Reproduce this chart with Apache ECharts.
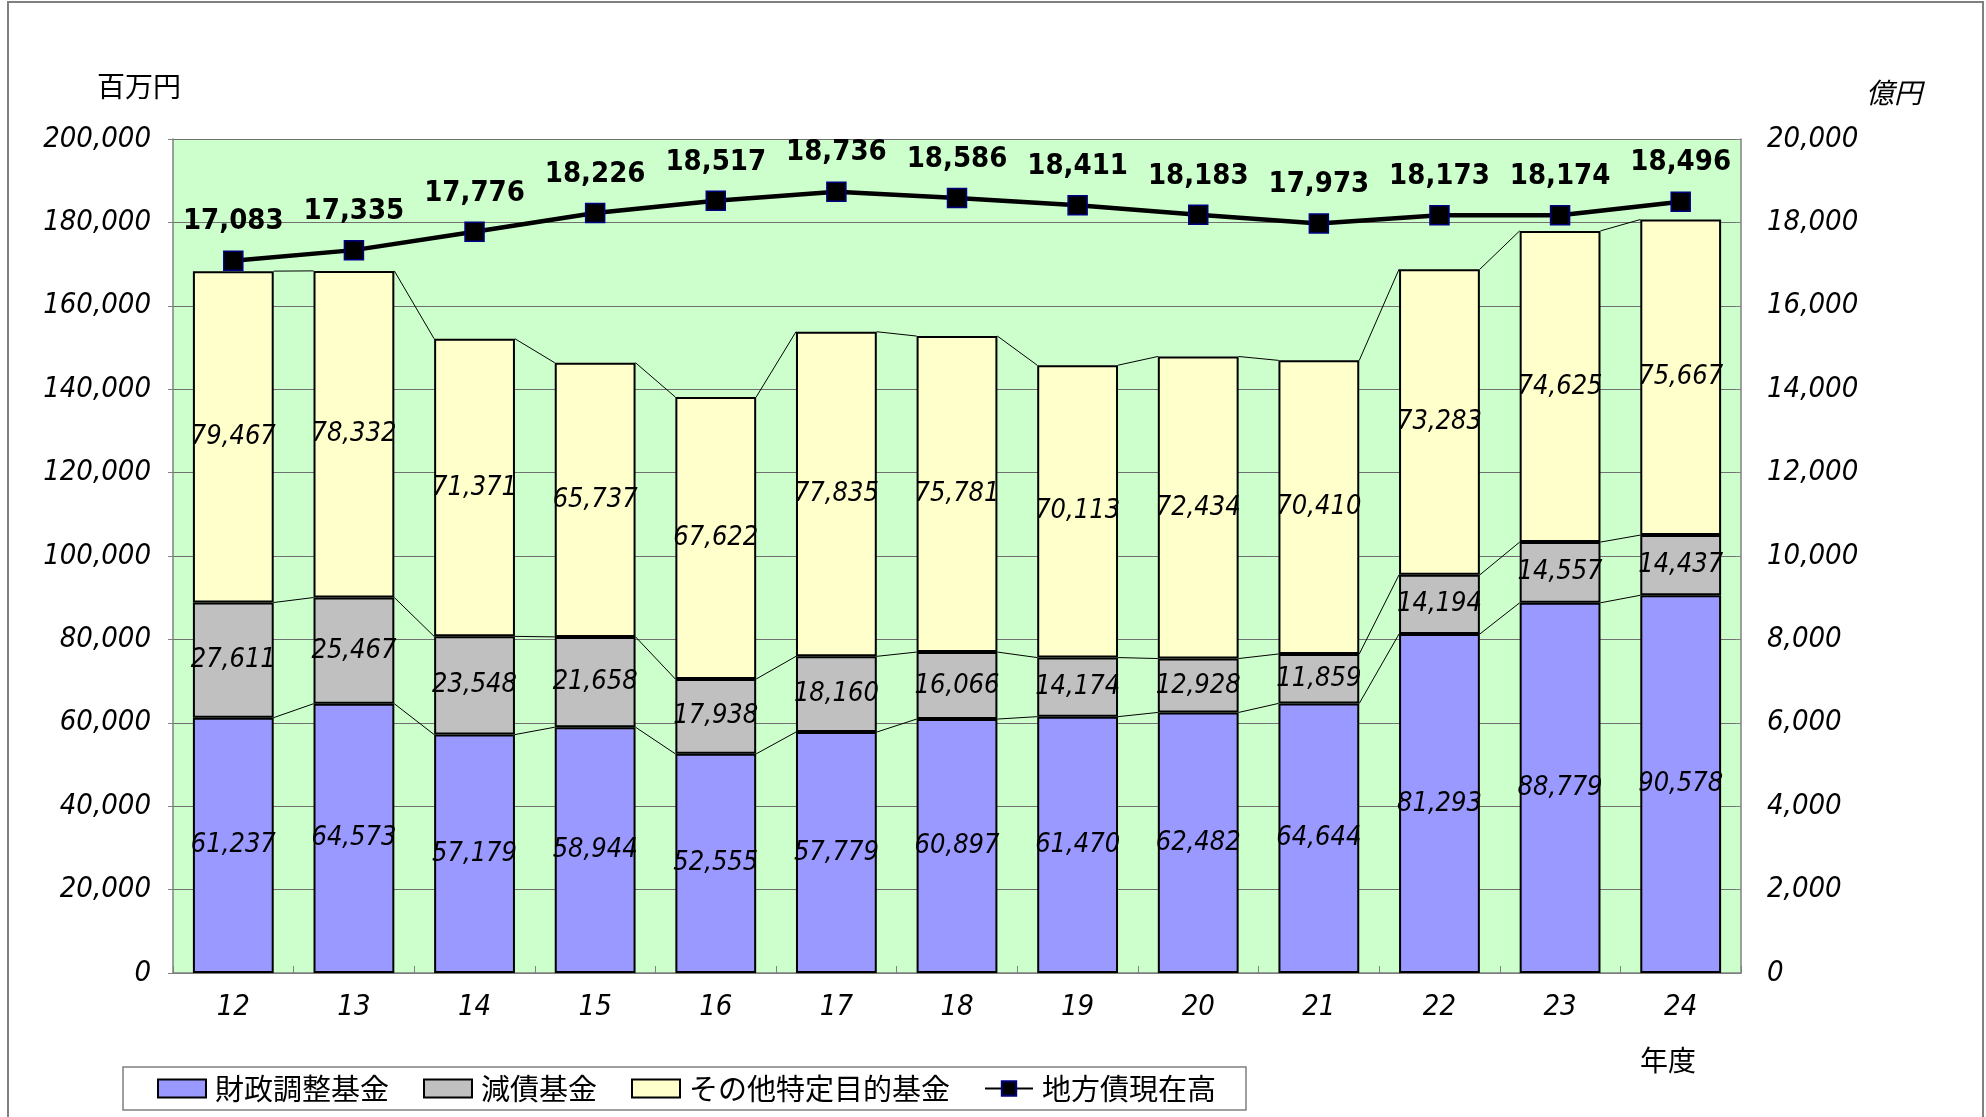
<!DOCTYPE html>
<html>
<head>
<meta charset="utf-8">
<script src="https://cdn.jsdelivr.net/npm/echarts@6/dist/echarts.min.js"></script>
<style>
html, body { margin: 0; padding: 0; background: #fff; }
#chart { width: 1986px; height: 1117px; }
</style>
</head>
<body>
<div id="chart"></div>
<script>
// 年度
var years = ['12', '13', '14', '15', '16', '17', '18', '19', '20', '21', '22', '23', '24'];
// 百万円
var zaiseiChosei = [61237, 64573, 57179, 58944, 52555, 57779, 60897, 61470, 62482, 64644, 81293, 88779, 90578];
var gensai = [27611, 25467, 23548, 21658, 17938, 18160, 16066, 14174, 12928, 11859, 14194, 14557, 14437];
var sonota = [79467, 78332, 71371, 65737, 67622, 77835, 75781, 70113, 72434, 70410, 73283, 74625, 75667];
// 億円
var chihousai = [17083, 17335, 17776, 18226, 18517, 18736, 18586, 18411, 18183, 17973, 18173, 18174, 18496];

var numFont = '"Liberation Sans Narrow", "DejaVu Sans Condensed", sans-serif';
var jpFont = '"Noto Sans CJK JP", sans-serif';
var barRatio = 0.67;

function fmt(v) {
    return Number(v).toLocaleString('en-US');
}

// 積み上げの境目 (区分線用)
var level1 = zaiseiChosei.map(function (v, i) { return v; });
var level2 = zaiseiChosei.map(function (v, i) { return v + gensai[i]; });
var level3 = zaiseiChosei.map(function (v, i) { return v + gensai[i] + sonota[i]; });

var myChart = echarts.init(document.getElementById('chart'));

var barLabel = {
    show: true,
    position: 'inside',
    fontFamily: numFont,
    fontStyle: 'italic',
    fontSize: 27,
    color: '#000',
    formatter: function (p) { return fmt(p.value); }
};

var option = {
    animation: false,
    backgroundColor: '#fff',
    grid: {
        left: 173,
        right: 245,
        top: 139,
        bottom: 144,
        show: true,
        backgroundColor: '#CCFFCC',
        borderWidth: 0
    },
    legend: {
        left: 123,
        top: 1067,
        padding: [7, 30, 7, 34],
        borderColor: '#808080',
        borderWidth: 1.5,
        backgroundColor: '#fff',
        itemWidth: 48,
        itemHeight: 18,
        itemGap: 34,
        textStyle: {
            fontFamily: jpFont,
            fontSize: 29,
            color: '#000',
            padding: [0, 0, 0, 4]
        },
        data: [
            { name: '財政調整基金', icon: 'rect' },
            { name: '減債基金', icon: 'rect' },
            { name: 'その他特定目的基金', icon: 'rect' },
            { name: '地方債現在高' }
        ]
    },
    xAxis: {
        type: 'category',
        data: years,
        axisLine: { lineStyle: { color: '#808080', width: 1.5 } },
        axisTick: { show: true, inside: true, length: 7, lineStyle: { color: '#808080' } },
        axisLabel: {
            fontFamily: numFont,
            fontStyle: 'italic',
            fontSize: 29,
            color: '#000',
            margin: 20
        }
    },
    yAxis: [{
        type: 'value',
        min: 0,
        max: 200000,
        interval: 20000,
        axisLine: { show: true, lineStyle: { color: '#808080', width: 1.5 } },
        axisTick: { show: true, length: 5, lineStyle: { color: '#808080' } },
        splitLine: { show: true, lineStyle: { color: '#707070', width: 1 } },
        axisLabel: {
            fontFamily: numFont,
            fontStyle: 'italic',
            fontSize: 29,
            color: '#000',
            margin: 22,
            formatter: fmt
        }
    }, {
        type: 'value',
        min: 0,
        max: 20000,
        interval: 2000,
        position: 'right',
        axisLine: { show: true, lineStyle: { color: '#808080', width: 1.5 } },
        axisTick: { show: true, inside: true, length: 5, lineStyle: { color: '#808080' } },
        splitLine: { show: false },
        axisLabel: {
            fontFamily: numFont,
            fontStyle: 'italic',
            fontSize: 29,
            color: '#000',
            margin: 26,
            formatter: fmt
        }
    }],
    graphic: [
        {
            type: 'rect',
            shape: { x: 8, y: 2, width: 1975, height: 1130 },
            style: { fill: 'none', stroke: '#808080', lineWidth: 2 },
            silent: true
        },
        {
            type: 'text', left: 97, top: 72,
            style: { text: '百万円', fontFamily: jpFont, fontSize: 28, fill: '#000' }
        },
        {
            type: 'text', left: 1866, top: 78,
            style: { text: '億円', fontFamily: jpFont, fontStyle: 'italic', fontSize: 28, fill: '#000' }
        },
        {
            type: 'text', left: 1640, top: 1046,
            style: { text: '年度', fontFamily: jpFont, fontSize: 28, fill: '#000' }
        }
    ],
    series: [
        {
            name: '区分線',
            type: 'custom',
            z: 1,
            silent: true,
            data: years.slice(0, years.length - 1).map(function (y, i) { return i; }),
            renderItem: function (params, api) {
                var i = api.value(0);
                var half = api.size([1, 0])[0] * barRatio / 2;
                var levels = [level1, level2, level3];
                var children = levels.map(function (lv) {
                    var a = api.coord([i, lv[i]]);
                    var b = api.coord([i + 1, lv[i + 1]]);
                    return {
                        type: 'line',
                        shape: { x1: a[0] + half, y1: a[1], x2: b[0] - half, y2: b[1] },
                        style: { stroke: '#000', lineWidth: 1 }
                    };
                });
                return { type: 'group', children: children };
            }
        },
        {
            name: '財政調整基金',
            type: 'bar',
            stack: 'kikin',
            barWidth: (barRatio * 100) + '%',
            z: 2,
            data: zaiseiChosei,
            itemStyle: { color: '#9999FF', borderColor: '#000', borderWidth: 2 },
            label: barLabel
        },
        {
            name: '減債基金',
            type: 'bar',
            stack: 'kikin',
            z: 2,
            data: gensai,
            itemStyle: { color: '#C0C0C0', borderColor: '#000', borderWidth: 2 },
            label: barLabel
        },
        {
            name: 'その他特定目的基金',
            type: 'bar',
            stack: 'kikin',
            z: 2,
            data: sonota,
            itemStyle: { color: '#FFFFCC', borderColor: '#000', borderWidth: 2 },
            label: barLabel
        },
        {
            name: '地方債現在高',
            type: 'line',
            yAxisIndex: 1,
            z: 5,
            data: chihousai,
            symbol: 'rect',
            symbolSize: 19,
            lineStyle: { color: '#000', width: 4.5 },
            itemStyle: { color: '#000', borderColor: '#000080', borderWidth: 1.5 },
            label: {
                show: true,
                position: 'top',
                distance: 14,
                fontFamily: numFont,
                fontWeight: 'bold',
                fontSize: 29,
                color: '#000',
                formatter: function (p) { return fmt(p.value); }
            }
        }
    ]
};

myChart.setOption(option);
</script>
</body>
</html>
